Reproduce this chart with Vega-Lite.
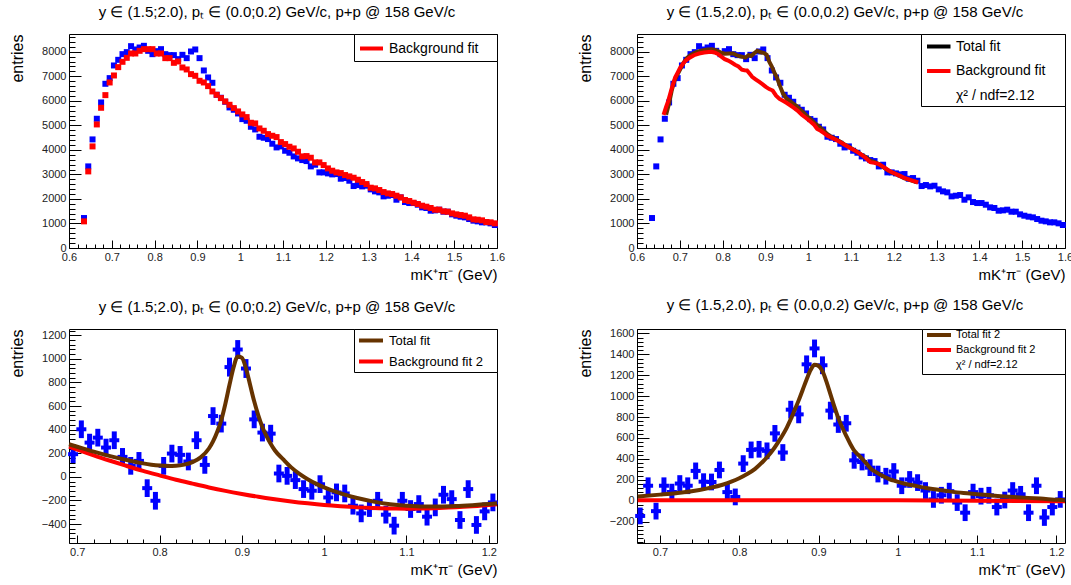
{
"$schema": "https://vega.github.io/schema/vega-lite/v6.json",
"background": "white",
"padding": {"left": 8, "top": 4, "right": 0, "bottom": 0},
"datasets": {
"top": [
{"m":0.635,"d":1222,"b":1086},{"m":0.645,"d":3327,"b":3123},{"m":0.655,"d":4427,"b":4142},{"m":0.665,"d":5269,"b":5038},{"m":0.675,"d":5934,"b":5717},{"m":0.685,"d":6695,"b":6233},{"m":0.695,"d":6926,"b":6749},{"m":0.705,"d":7442,"b":7034},{"m":0.715,"d":7672,"b":7374},{"m":0.725,"d":7903,"b":7591},{"m":0.735,"d":7985,"b":7754},{"m":0.745,"d":8229,"b":7931},{"m":0.755,"d":8094,"b":7931},{"m":0.765,"d":8175,"b":8039},{"m":0.775,"d":8243,"b":8107},{"m":0.785,"d":8039,"b":8107},{"m":0.795,"d":7903,"b":8107},{"m":0.805,"d":8026,"b":7931},{"m":0.815,"d":8107,"b":7931},{"m":0.825,"d":7903,"b":7741},{"m":0.835,"d":7863,"b":7741},{"m":0.845,"d":7863,"b":7550},{"m":0.855,"d":7700,"b":7605},{"m":0.865,"d":7876,"b":7360},{"m":0.875,"d":7741,"b":7279},{"m":0.885,"d":8012,"b":7089},{"m":0.895,"d":8094,"b":7021},{"m":0.905,"d":7741,"b":6817},{"m":0.915,"d":7238,"b":6749},{"m":0.925,"d":6953,"b":6600},{"m":0.935,"d":6736,"b":6383},{"m":0.945,"d":6247,"b":6247},{"m":0.955,"d":6125,"b":6111},{"m":0.965,"d":5962,"b":5975},{"m":0.975,"d":5731,"b":5839},{"m":0.985,"d":5636,"b":5704},{"m":0.995,"d":5486,"b":5568},{"m":1.005,"d":5255,"b":5446},{"m":1.015,"d":5187,"b":5337},{"m":1.025,"d":4943,"b":5106},{"m":1.035,"d":4834,"b":5079},{"m":1.045,"d":4536,"b":4875},{"m":1.055,"d":4495,"b":4780},{"m":1.065,"d":4441,"b":4644},{"m":1.075,"d":4251,"b":4576},{"m":1.085,"d":4101,"b":4522},{"m":1.095,"d":4142,"b":4318},{"m":1.105,"d":3965,"b":4237},{"m":1.115,"d":3884,"b":4128},{"m":1.125,"d":3734,"b":4060},{"m":1.135,"d":3653,"b":3925},{"m":1.145,"d":3585,"b":3734},{"m":1.155,"d":3544,"b":3748},{"m":1.165,"d":3327,"b":3680},{"m":1.175,"d":3395,"b":3490},{"m":1.185,"d":3083,"b":3490},{"m":1.195,"d":3083,"b":3381},{"m":1.205,"d":3042,"b":3246},{"m":1.215,"d":3001,"b":3151},{"m":1.225,"d":3015,"b":3083},{"m":1.235,"d":2825,"b":3055},{"m":1.245,"d":2852,"b":2974},{"m":1.255,"d":2743,"b":2920},{"m":1.265,"d":2526,"b":2865},{"m":1.275,"d":2567,"b":2784},{"m":1.285,"d":2512,"b":2689},{"m":1.295,"d":2539,"b":2607},{"m":1.305,"d":2390,"b":2458},{"m":1.315,"d":2309,"b":2431},{"m":1.325,"d":2268,"b":2363},{"m":1.335,"d":2105,"b":2281},{"m":1.345,"d":2132,"b":2227},{"m":1.355,"d":2159,"b":2200},{"m":1.365,"d":1969,"b":2132},{"m":1.375,"d":2064,"b":2064},{"m":1.385,"d":1874,"b":1956},{"m":1.395,"d":1833,"b":1915},{"m":1.405,"d":1833,"b":1847},{"m":1.415,"d":1765,"b":1793},{"m":1.425,"d":1657,"b":1725},{"m":1.435,"d":1630,"b":1684},{"m":1.445,"d":1521,"b":1630},{"m":1.455,"d":1535,"b":1562},{"m":1.465,"d":1562,"b":1562},{"m":1.475,"d":1480,"b":1494},{"m":1.485,"d":1480,"b":1480},{"m":1.495,"d":1372,"b":1412},{"m":1.505,"d":1317,"b":1372},{"m":1.515,"d":1277,"b":1344},{"m":1.525,"d":1249,"b":1317},{"m":1.535,"d":1181,"b":1249},{"m":1.545,"d":1114,"b":1168},{"m":1.555,"d":1086,"b":1154},{"m":1.565,"d":1046,"b":1127},{"m":1.575,"d":1046,"b":1059},{"m":1.585,"d":1005,"b":1046},{"m":1.595,"d":937,"b":1005}
],
"trTot": [
{"m":0.668,"v":5430},{"m":0.675,"v":5900},{"m":0.681,"v":6410},{"m":0.687,"v":6800},{"m":0.693,"v":7020},{"m":0.7,"v":7250},{"m":0.709,"v":7560},{"m":0.717,"v":7750},{"m":0.725,"v":7860},{"m":0.735,"v":7960},{"m":0.745,"v":8020},{"m":0.755,"v":8060},{"m":0.765,"v":8090},{"m":0.775,"v":8100},{"m":0.785,"v":8060},{"m":0.795,"v":7980},{"m":0.805,"v":7920},{"m":0.815,"v":7930},{"m":0.825,"v":7930},{"m":0.835,"v":7840},{"m":0.845,"v":7800},{"m":0.853,"v":7760},{"m":0.861,"v":7860},{"m":0.867,"v":7830},{"m":0.873,"v":7930},{"m":0.881,"v":8040},{"m":0.889,"v":7980},{"m":0.897,"v":7950},{"m":0.903,"v":7880},{"m":0.909,"v":7600},{"m":0.915,"v":7400},{"m":0.921,"v":7150},{"m":0.927,"v":6950},{"m":0.933,"v":6650},{"m":0.941,"v":6300},{"m":0.949,"v":6100},{"m":0.957,"v":6000},{"m":0.965,"v":5880},{"m":0.973,"v":5790},{"m":0.981,"v":5640},{"m":0.989,"v":5530},{"m":0.997,"v":5380},{"m":1.005,"v":5260},{"m":1.015,"v":5100},{"m":1.025,"v":4950},{"m":1.035,"v":4800},{"m":1.045,"v":4640},{"m":1.055,"v":4520},{"m":1.065,"v":4430},{"m":1.075,"v":4330},{"m":1.085,"v":4220},{"m":1.095,"v":4130},{"m":1.105,"v":4020},{"m":1.115,"v":3920},{"m":1.125,"v":3800},{"m":1.135,"v":3700},{"m":1.145,"v":3560},{"m":1.155,"v":3500},{"m":1.165,"v":3420},{"m":1.175,"v":3300},{"m":1.185,"v":3180},{"m":1.195,"v":3080},{"m":1.205,"v":3010},{"m":1.215,"v":2930},{"m":1.225,"v":2840},{"m":1.235,"v":2790},{"m":1.245,"v":2730},{"m":1.255,"v":2680}
],
"trBkg": [
{"m":0.662,"v":5430},{"m":0.668,"v":5750},{"m":0.673,"v":6000},{"m":0.681,"v":6500},{"m":0.689,"v":6950},{"m":0.695,"v":7150},{"m":0.701,"v":7360},{"m":0.707,"v":7500},{"m":0.713,"v":7630},{"m":0.723,"v":7760},{"m":0.733,"v":7860},{"m":0.745,"v":7930},{"m":0.757,"v":7970},{"m":0.773,"v":8000},{"m":0.781,"v":7970},{"m":0.789,"v":7910},{"m":0.797,"v":7800},{"m":0.805,"v":7700},{"m":0.813,"v":7640},{"m":0.821,"v":7560},{"m":0.829,"v":7470},{"m":0.837,"v":7400},{"m":0.845,"v":7270},{"m":0.851,"v":7250},{"m":0.857,"v":7240},{"m":0.863,"v":7110},{"m":0.869,"v":6980},{"m":0.877,"v":6880},{"m":0.885,"v":6780},{"m":0.893,"v":6680},{"m":0.901,"v":6570},{"m":0.909,"v":6480},{"m":0.917,"v":6420},{"m":0.925,"v":6210},{"m":0.933,"v":6080},{"m":0.941,"v":6000},{"m":0.949,"v":5920},{"m":0.957,"v":5830},{"m":0.965,"v":5730},{"m":0.975,"v":5600},{"m":0.985,"v":5430},{"m":0.995,"v":5300},{"m":1.005,"v":5160},{"m":1.013,"v":5040},{"m":1.021,"v":4850},{"m":1.029,"v":4780},{"m":1.037,"v":4680},{"m":1.045,"v":4580},{"m":1.057,"v":4480},{"m":1.069,"v":4370},{"m":1.079,"v":4270},{"m":1.089,"v":4170},{"m":1.099,"v":4070},{"m":1.109,"v":3970},{"m":1.121,"v":3850},{"m":1.133,"v":3690},{"m":1.145,"v":3500},{"m":1.155,"v":3470},{"m":1.165,"v":3420},{"m":1.177,"v":3290},{"m":1.189,"v":3150},{"m":1.201,"v":3050},{"m":1.213,"v":2950},{"m":1.223,"v":2870},{"m":1.233,"v":2810},{"m":1.245,"v":2740},{"m":1.257,"v":2670}
],
"bl": [
{"m":0.695,"v":192,"e":75},{"m":0.705,"v":403,"e":75},{"m":0.715,"v":290,"e":75},{"m":0.725,"v":332,"e":75},{"m":0.735,"v":248,"e":75},{"m":0.745,"v":310,"e":75},{"m":0.755,"v":169,"e":75},{"m":0.765,"v":93,"e":75},{"m":0.775,"v":135,"e":75},{"m":0.785,"v":-96,"e":75},{"m":0.795,"v":-203,"e":75},{"m":0.805,"v":93,"e":75},{"m":0.815,"v":197,"e":75},{"m":0.825,"v":186,"e":75},{"m":0.835,"v":130,"e":75},{"m":0.845,"v":310,"e":75},{"m":0.855,"v":101,"e":75},{"m":0.865,"v":515,"e":75},{"m":0.875,"v":451,"e":75},{"m":0.885,"v":930,"e":80},{"m":0.895,"v":1079,"e":80},{"m":0.905,"v":918,"e":80},{"m":0.915,"v":487,"e":75},{"m":0.925,"v":375,"e":75},{"m":0.935,"v":366,"e":75},{"m":0.945,"v":28,"e":75},{"m":0.955,"v":8,"e":75},{"m":0.965,"v":-28,"e":75},{"m":0.975,"v":-104,"e":75},{"m":0.985,"v":-118,"e":75},{"m":0.995,"v":-62,"e":75},{"m":1.005,"v":-175,"e":75},{"m":1.015,"v":-132,"e":75},{"m":1.025,"v":-141,"e":75},{"m":1.035,"v":-245,"e":75},{"m":1.045,"v":-310,"e":75},{"m":1.055,"v":-265,"e":75},{"m":1.065,"v":-203,"e":75},{"m":1.075,"v":-321,"e":75},{"m":1.085,"v":-414,"e":75},{"m":1.095,"v":-203,"e":75},{"m":1.105,"v":-273,"e":75},{"m":1.115,"v":-231,"e":75},{"m":1.125,"v":-338,"e":75},{"m":1.135,"v":-259,"e":75},{"m":1.145,"v":-152,"e":75},{"m":1.155,"v":-189,"e":75},{"m":1.165,"v":-366,"e":75},{"m":1.175,"v":-104,"e":75},{"m":1.185,"v":-408,"e":75},{"m":1.195,"v":-293,"e":75},{"m":1.205,"v":-217,"e":75}
],
"blTot": [
{"m":0.69,"v":276},{"m":0.7,"v":255},{"m":0.72,"v":213},{"m":0.74,"v":175},{"m":0.76,"v":142},{"m":0.78,"v":114},{"m":0.79,"v":103},{"m":0.8,"v":95},{"m":0.81,"v":91},{"m":0.82,"v":93},{"m":0.83,"v":103},{"m":0.84,"v":125},{"m":0.85,"v":165},{"m":0.86,"v":240},{"m":0.865,"v":300},{"m":0.87,"v":380},{"m":0.875,"v":480},{"m":0.88,"v":620},{"m":0.885,"v":780},{"m":0.89,"v":930},{"m":0.895,"v":1020},{"m":0.9,"v":1010},{"m":0.905,"v":920},{"m":0.91,"v":780},{"m":0.915,"v":640},{"m":0.92,"v":520},{"m":0.925,"v":420},{"m":0.93,"v":345},{"m":0.935,"v":280},{"m":0.94,"v":225},{"m":0.95,"v":150},{"m":0.96,"v":80},{"m":0.97,"v":25},{"m":0.98,"v":-20},{"m":0.99,"v":-58},{"m":1.0,"v":-90},{"m":1.02,"v":-140},{"m":1.04,"v":-180},{"m":1.06,"v":-210},{"m":1.08,"v":-232},{"m":1.1,"v":-245},{"m":1.12,"v":-252},{"m":1.14,"v":-252},{"m":1.16,"v":-248},{"m":1.18,"v":-240},{"m":1.2,"v":-230},{"m":1.21,"v":-225}
],
"blBkg": [
{"m":0.69,"v":256},{"m":0.7,"v":231},{"m":0.72,"v":182},{"m":0.74,"v":136},{"m":0.76,"v":92},{"m":0.78,"v":50},{"m":0.8,"v":12},{"m":0.82,"v":-25},{"m":0.84,"v":-58},{"m":0.86,"v":-90},{"m":0.88,"v":-119},{"m":0.9,"v":-145},{"m":0.92,"v":-169},{"m":0.94,"v":-190},{"m":0.96,"v":-209},{"m":0.98,"v":-225},{"m":1.0,"v":-239},{"m":1.02,"v":-250},{"m":1.04,"v":-259},{"m":1.06,"v":-265},{"m":1.08,"v":-269},{"m":1.1,"v":-270},{"m":1.12,"v":-269},{"m":1.14,"v":-265},{"m":1.16,"v":-259},{"m":1.18,"v":-250},{"m":1.2,"v":-239},{"m":1.21,"v":-232}
],
"br": [
{"m":0.675,"v":-146,"e":80},{"m":0.685,"v":143,"e":80},{"m":0.695,"v":-100,"e":80},{"m":0.705,"v":143,"e":80},{"m":0.715,"v":82,"e":80},{"m":0.725,"v":164,"e":80},{"m":0.735,"v":143,"e":80},{"m":0.745,"v":285,"e":80},{"m":0.755,"v":182,"e":80},{"m":0.765,"v":179,"e":80},{"m":0.775,"v":294,"e":80},{"m":0.785,"v":82,"e":80},{"m":0.795,"v":36,"e":80},{"m":0.805,"v":355,"e":80},{"m":0.815,"v":486,"e":80},{"m":0.825,"v":492,"e":80},{"m":0.835,"v":477,"e":80},{"m":0.845,"v":644,"e":80},{"m":0.855,"v":461,"e":80},{"m":0.865,"v":871,"e":85},{"m":0.875,"v":826,"e":85},{"m":0.885,"v":1305,"e":85},{"m":0.895,"v":1457,"e":85},{"m":0.905,"v":1296,"e":85},{"m":0.915,"v":862,"e":85},{"m":0.925,"v":729,"e":80},{"m":0.935,"v":741,"e":80},{"m":0.945,"v":386,"e":80},{"m":0.955,"v":370,"e":80},{"m":0.965,"v":316,"e":80},{"m":0.975,"v":255,"e":80},{"m":0.985,"v":234,"e":80},{"m":0.995,"v":279,"e":80},{"m":1.005,"v":143,"e":80},{"m":1.015,"v":203,"e":80},{"m":1.025,"v":173,"e":80},{"m":1.035,"v":97,"e":80},{"m":1.045,"v":12,"e":80},{"m":1.055,"v":52,"e":80},{"m":1.065,"v":91,"e":80},{"m":1.075,"v":-18,"e":80},{"m":1.085,"v":-115,"e":80},{"m":1.095,"v":82,"e":80},{"m":1.105,"v":43,"e":80},{"m":1.115,"v":52,"e":80},{"m":1.125,"v":-61,"e":80},{"m":1.135,"v":6,"e":80},{"m":1.145,"v":97,"e":80},{"m":1.155,"v":61,"e":80},{"m":1.165,"v":-115,"e":80},{"m":1.175,"v":143,"e":80},{"m":1.185,"v":-161,"e":80},{"m":1.195,"v":-61,"e":80},{"m":1.205,"v":12,"e":80}
],
"brTot": [
{"m":0.672,"v":40},{"m":0.7,"v":58},{"m":0.72,"v":72},{"m":0.74,"v":90},{"m":0.76,"v":118},{"m":0.78,"v":155},{"m":0.79,"v":182},{"m":0.8,"v":215},{"m":0.81,"v":255},{"m":0.82,"v":305},{"m":0.83,"v":375},{"m":0.84,"v":460},{"m":0.85,"v":570},{"m":0.86,"v":700},{"m":0.865,"v":780},{"m":0.87,"v":870},{"m":0.875,"v":960},{"m":0.88,"v":1060},{"m":0.885,"v":1160},{"m":0.89,"v":1250},{"m":0.895,"v":1300},{"m":0.9,"v":1290},{"m":0.905,"v":1240},{"m":0.91,"v":1140},{"m":0.915,"v":1020},{"m":0.92,"v":900},{"m":0.925,"v":790},{"m":0.93,"v":700},{"m":0.935,"v":620},{"m":0.94,"v":545},{"m":0.946,"v":470},{"m":0.95,"v":440},{"m":0.96,"v":360},{"m":0.967,"v":300},{"m":0.97,"v":285},{"m":0.98,"v":240},{"m":0.99,"v":205},{"m":0.997,"v":188},{"m":1.01,"v":160},{"m":1.02,"v":145},{"m":1.036,"v":121},{"m":1.06,"v":95},{"m":1.083,"v":73},{"m":1.1,"v":62},{"m":1.126,"v":45},{"m":1.15,"v":33},{"m":1.18,"v":20},{"m":1.203,"v":8},{"m":1.211,"v":5}
],
"brBkg": [
{"m":0.672,"v":3},{"m":0.8,"v":5},{"m":0.9,"v":5},{"m":1.0,"v":3},{"m":1.1,"v":-1},{"m":1.211,"v":-6}
]
},
"columns": 2,
"spacing": {"row": 81, "column": 140},
"bounds": "flush",
"resolve": {"scale": {"x": "independent", "y": "independent", "color": "independent"}, "legend": {"color": "independent"}, "axis": {"x": "independent", "y": "independent"}},
"concat": [
{
"width": 428, "height": 214,
"title": {"text": "y ∈ (1.5;2.0), pₜ ∈ (0.0;0.2) GeV/c, p+p @ 158 GeV/c", "dx": -6},
"data": {"name": "top"},
"resolve": {"axis": {"x": "independent", "y": "independent"}},
"layer": [
{"mark": {"type": "point", "shape": "square", "filled": true, "size": 36, "opacity": 1, "color": "#0000ff"},
 "encoding": {
  "x": {"field": "m", "type": "quantitative", "scale": {"domain": [0.6, 1.6], "nice": false, "zero": false},
        "axis": {"orient": "bottom", "values": [0.6,0.7,0.8,0.9,1,1.1,1.2,1.3,1.4,1.5,1.6], "format": "~g", "tickSize": -8, "labelPadding": 11, "labelFlush": false, "labelOverlap": false, "title": "mK⁺π⁻ (GeV)", "titleFontSize": 15, "titleAnchor": "end", "titleY": 31, "titleBaseline": "alphabetic"}},
  "y": {"field": "d", "type": "quantitative", "scale": {"domain": [0, 8725], "nice": false, "zero": false},
        "axis": {"orient": "left", "values": [0,1000,2000,3000,4000,5000,6000,7000,8000], "format": "d", "tickSize": -12, "labelPadding": 15, "labelFlush": false, "labelOverlap": false, "title": "entries", "titleFontSize": 16, "titleAnchor": "end", "titleAlign": "right", "titleX": -44, "titleY": 0, "titleBaseline": "bottom"}}
 }},
{"mark": {"type": "point", "shape": "square", "filled": true, "size": 36, "opacity": 1},
 "encoding": {
  "x": {"field": "m", "type": "quantitative", "scale": {"domain": [0.6, 1.6], "nice": false, "zero": false},
        "axis": {"orient": "bottom", "values": [0.62,0.64,0.66,0.68,0.72,0.74,0.76,0.78,0.82,0.84,0.86,0.88,0.92,0.94,0.96,0.98,1.02,1.04,1.06,1.08,1.12,1.14,1.16,1.18,1.22,1.24,1.26,1.28,1.32,1.34,1.36,1.38,1.42,1.44,1.46,1.48,1.52,1.54,1.56,1.58], "tickSize": -4, "labels": false, "title": null}},
  "y": {"field": "b", "type": "quantitative", "scale": {"domain": [0, 8725], "nice": false, "zero": false},
        "axis": {"orient": "left", "values": [200,400,600,800,1200,1400,1600,1800,2200,2400,2600,2800,3200,3400,3600,3800,4200,4400,4600,4800,5200,5400,5600,5800,6200,6400,6600,6800,7200,7400,7600,7800,8200,8400,8600], "tickSize": -6, "labels": false, "title": null}},
  "color": {"datum": "Background fit", "scale": {"domain": ["Background fit"], "range": ["#ff0000"]},
        "legend": {"symbolType": "M-1,0H1.706M13.7,0", "symbolSize": 289, "symbolStrokeWidth": 4, "padding": 4, "labelFontSize": 14, "labelOffset": 10,
                   "encode": {"symbols": {"update": {"stroke": {"value": "#ff0000"}, "strokeWidth": {"value": 4}, "fill": {"value": "transparent"}, "shape": {"value": "M-1,0H1.706M13.7,0"}}}}}}
 }}
]
},
{
"width": 428, "height": 214,
"title": {"text": "y ∈ (1.5,2.0), pₜ ∈ (0.0,0.2) GeV/c, p+p @ 158 GeV/c", "dx": -6},
"resolve": {"axis": {"x": "independent", "y": "independent"}},
"layer": [
{"data": {"name": "top"},
 "mark": {"type": "point", "shape": "square", "filled": true, "size": 36, "opacity": 1, "color": "#0000ff"},
 "encoding": {
  "x": {"field": "m", "type": "quantitative", "scale": {"domain": [0.6, 1.6], "nice": false, "zero": false},
        "axis": {"orient": "bottom", "values": [0.6,0.7,0.8,0.9,1,1.1,1.2,1.3,1.4,1.5,1.6], "format": "~g", "tickSize": -8, "labelPadding": 11, "labelFlush": false, "labelOverlap": false, "title": "mK⁺π⁻ (GeV)", "titleFontSize": 15, "titleAnchor": "end", "titleY": 31, "titleBaseline": "alphabetic"}},
  "y": {"field": "d", "type": "quantitative", "scale": {"domain": [0, 8725], "nice": false, "zero": false},
        "axis": {"orient": "left", "values": [0,1000,2000,3000,4000,5000,6000,7000,8000], "format": "d", "tickSize": -12, "labelPadding": 15, "labelFlush": false, "labelOverlap": false, "title": "entries", "titleFontSize": 16, "titleAnchor": "end", "titleAlign": "right", "titleX": -44, "titleY": 0, "titleBaseline": "bottom"}}
 }},
{"data": {"name": "trTot"},
 "mark": {"type": "line", "color": "#663300", "strokeWidth": 4},
 "encoding": {
  "x": {"field": "m", "type": "quantitative", "scale": {"domain": [0.6, 1.6], "nice": false, "zero": false},
        "axis": {"orient": "bottom", "values": [0.62,0.64,0.66,0.68,0.72,0.74,0.76,0.78,0.82,0.84,0.86,0.88,0.92,0.94,0.96,0.98,1.02,1.04,1.06,1.08,1.12,1.14,1.16,1.18,1.22,1.24,1.26,1.28,1.32,1.34,1.36,1.38,1.42,1.44,1.46,1.48,1.52,1.54,1.56,1.58], "tickSize": -4, "labels": false, "title": null}},
  "y": {"field": "v", "type": "quantitative", "scale": {"domain": [0, 8725], "nice": false, "zero": false},
        "axis": {"orient": "left", "values": [200,400,600,800,1200,1400,1600,1800,2200,2400,2600,2800,3200,3400,3600,3800,4200,4400,4600,4800,5200,5400,5600,5800,6200,6400,6600,6800,7200,7400,7600,7800,8200,8400,8600], "tickSize": -6, "labels": false, "title": null}}
 }},
{"data": {"name": "trBkg"},
 "mark": {"type": "line", "strokeWidth": 4},
 "encoding": {
  "x": {"field": "m", "type": "quantitative", "scale": {"domain": [0.6, 1.6], "nice": false, "zero": false}, "axis": null},
  "y": {"field": "v", "type": "quantitative", "scale": {"domain": [0, 8725], "nice": false, "zero": false}, "axis": null},
  "color": {"datum": "Background fit", "scale": {"domain": ["Total fit", "Background fit", "χ² / ndf=2.12"], "range": ["#000000", "#ff0000", "rgba(255,255,255,0)"]},
        "legend": {"symbolType": "M-0.765,0H2M14.18,0", "symbolSize": 289, "symbolStrokeWidth": 4, "padding": 2, "rowPadding": 5.5, "labelFontSize": 14, "labelOffset": 12}}
 }}
]
},
{
"width": 428, "height": 214,
"title": {"text": "y ∈ (1.5;2.0), pₜ ∈ (0.0;0.2) GeV/c, p+p @ 158 GeV/c", "dx": -6},
"resolve": {"axis": {"x": "independent", "y": "independent"}},
"layer": [
{"data": {"name": "bl"},
 "mark": {"type": "errorbar", "color": "#0000ff", "thickness": 5, "ticks": false},
 "encoding": {
  "x": {"field": "m", "type": "quantitative", "scale": {"domain": [0.69, 1.21], "nice": false, "zero": false}, "axis": null},
  "y": {"field": "v", "type": "quantitative", "scale": {"domain": [-561, 1253], "nice": false, "zero": false}, "axis": null},
  "yError": {"field": "e"}
 }},
{"data": {"name": "bl"},
 "mark": {"type": "tick", "orient": "horizontal", "size": 10, "thickness": 4, "color": "#0000ff", "opacity": 1},
 "encoding": {
  "x": {"field": "m", "type": "quantitative", "scale": {"domain": [0.69, 1.21], "nice": false, "zero": false},
        "axis": {"orient": "bottom", "values": [0.7,0.8,0.9,1,1.1,1.2], "format": "~g", "tickSize": -8, "labelPadding": 11, "labelFlush": false, "labelOverlap": false, "title": "mK⁺π⁻ (GeV)", "titleFontSize": 15, "titleAnchor": "end", "titleY": 31, "titleBaseline": "alphabetic"}},
  "y": {"field": "v", "type": "quantitative", "scale": {"domain": [-561, 1253], "nice": false, "zero": false},
        "axis": {"orient": "left", "values": [-400,-200,0,200,400,600,800,1000,1200], "format": "d", "tickSize": -12, "labelPadding": 15, "labelFlush": false, "labelOverlap": false, "title": "entries", "titleFontSize": 16, "titleAnchor": "end", "titleAlign": "right", "titleX": -44, "titleY": 0, "titleBaseline": "bottom"}}
 }},
{"data": {"name": "blBkg"},
 "mark": {"type": "line", "strokeWidth": 4, "interpolate": "monotone"},
 "encoding": {
  "x": {"field": "m", "type": "quantitative", "scale": {"domain": [0.69, 1.21], "nice": false, "zero": false},
        "axis": {"orient": "bottom", "values": [0.72,0.74,0.76,0.78,0.82,0.84,0.86,0.88,0.92,0.94,0.96,0.98,1.02,1.04,1.06,1.08,1.12,1.14,1.16,1.18], "tickSize": -4, "labels": false, "title": null}},
  "y": {"field": "v", "type": "quantitative", "scale": {"domain": [-561, 1253], "nice": false, "zero": false},
        "axis": {"orient": "left", "values": [-560,-520,-480,-440,-360,-320,-280,-240,-160,-120,-80,-40,40,80,120,160,240,280,320,360,440,480,520,560,640,680,720,760,840,880,920,960,1040,1080,1120,1160,1240], "tickSize": -6, "labels": false, "title": null}},
  "color": {"datum": "Background fit 2", "scale": {"domain": ["Total fit", "Background fit 2"], "range": ["#663300", "#ff0000"]},
        "legend": {"symbolType": "M-0.867,0H2.333M16.2,0", "symbolSize": 225, "symbolStrokeWidth": 4, "padding": 2, "rowPadding": 3, "labelFontSize": 13, "labelOffset": 14}}
 }},
{"data": {"name": "blTot"},
 "mark": {"type": "line", "strokeWidth": 4, "interpolate": "monotone"},
 "encoding": {
  "x": {"field": "m", "type": "quantitative", "scale": {"domain": [0.69, 1.21], "nice": false, "zero": false}, "axis": null},
  "y": {"field": "v", "type": "quantitative", "scale": {"domain": [-561, 1253], "nice": false, "zero": false}, "axis": null},
  "color": {"datum": "Total fit"}
 }}
]
},
{
"width": 428, "height": 214,
"title": {"text": "y ∈ (1.5,2.0), pₜ ∈ (0.0,0.2) GeV/c, p+p @ 158 GeV/c", "dx": -6},
"resolve": {"axis": {"x": "independent", "y": "independent"}},
"layer": [
{"data": {"name": "br"},
 "mark": {"type": "errorbar", "color": "#0000ff", "thickness": 5, "ticks": false},
 "encoding": {
  "x": {"field": "m", "type": "quantitative", "scale": {"domain": [0.671, 1.211], "nice": false, "zero": false}, "axis": null},
  "y": {"field": "v", "type": "quantitative", "scale": {"domain": [-405, 1643], "nice": false, "zero": false}, "axis": null},
  "yError": {"field": "e"}
 }},
{"data": {"name": "br"},
 "mark": {"type": "tick", "orient": "horizontal", "size": 10, "thickness": 4, "color": "#0000ff", "opacity": 1},
 "encoding": {
  "x": {"field": "m", "type": "quantitative", "scale": {"domain": [0.671, 1.211], "nice": false, "zero": false},
        "axis": {"orient": "bottom", "values": [0.7,0.8,0.9,1,1.1,1.2], "format": "~g", "tickSize": -8, "labelPadding": 11, "labelFlush": false, "labelOverlap": false, "title": "mK⁺π⁻ (GeV)", "titleFontSize": 15, "titleAnchor": "end", "titleY": 31, "titleBaseline": "alphabetic"}},
  "y": {"field": "v", "type": "quantitative", "scale": {"domain": [-405, 1643], "nice": false, "zero": false},
        "axis": {"orient": "left", "values": [-200,0,200,400,600,800,1000,1200,1400,1600], "format": "d", "tickSize": -12, "labelPadding": 15, "labelFlush": false, "labelOverlap": false, "title": "entries", "titleFontSize": 16, "titleAnchor": "end", "titleAlign": "right", "titleX": -44, "titleY": 0, "titleBaseline": "bottom"}}
 }},
{"data": {"name": "brBkg"},
 "mark": {"type": "line", "strokeWidth": 4},
 "encoding": {
  "x": {"field": "m", "type": "quantitative", "scale": {"domain": [0.671, 1.211], "nice": false, "zero": false},
        "axis": {"orient": "bottom", "values": [0.68,0.72,0.74,0.76,0.78,0.82,0.84,0.86,0.88,0.92,0.94,0.96,0.98,1.02,1.04,1.06,1.08,1.12,1.14,1.16,1.18], "tickSize": -4, "labels": false, "title": null}},
  "y": {"field": "v", "type": "quantitative", "scale": {"domain": [-405, 1643], "nice": false, "zero": false},
        "axis": {"orient": "left", "values": [-400,-360,-320,-280,-240,-160,-120,-80,-40,40,80,120,160,240,280,320,360,440,480,520,560,640,680,720,760,840,880,920,960,1040,1080,1120,1160,1240,1280,1320,1360,1440,1480,1520,1560,1640], "tickSize": -6, "labels": false, "title": null}},
  "color": {"datum": "Background fit 2", "scale": {"domain": ["Total fit 2", "Background fit 2", "χ² / ndf=2.12"], "range": ["#663300", "#ff0000", "rgba(255,255,255,0)"]},
        "legend": {"symbolType": "M-0.286,0H6.571M36.7,0", "symbolSize": 49, "symbolStrokeWidth": 4, "padding": 0.5, "rowPadding": -2, "labelFontSize": 11, "labelOffset": 22.5}}
 }},
{"data": {"name": "brTot"},
 "mark": {"type": "line", "strokeWidth": 4, "interpolate": "monotone"},
 "encoding": {
  "x": {"field": "m", "type": "quantitative", "scale": {"domain": [0.671, 1.211], "nice": false, "zero": false}, "axis": null},
  "y": {"field": "v", "type": "quantitative", "scale": {"domain": [-405, 1643], "nice": false, "zero": false}, "axis": null},
  "color": {"datum": "Total fit 2"}
 }}
]
}
],
"config": {
 "view": {"stroke": "#000000", "strokeWidth": 1},
 "font": "Liberation Sans",
 "title": {"font": "Liberation Sans", "fontSize": 15, "fontWeight": "normal", "color": "#000000", "baseline": "alphabetic", "offset": 14},
 "axis": {"domain": false, "grid": false, "labelFont": "Liberation Sans", "labelFontSize": 11, "labelColor": "#222222", "tickColor": "#000000", "tickWidth": 1, "titleFont": "Liberation Sans", "titleFontWeight": "normal", "titleColor": "#000000"},
 "legend": {"orient": "top-right", "offset": 0, "title": null, "strokeColor": "#000000", "strokeWidth": 1, "fillColor": "#ffffff", "labelFont": "Liberation Sans", "labelColor": "#000000", "cornerRadius": 0, "symbolOpacity": 1}
}
}
